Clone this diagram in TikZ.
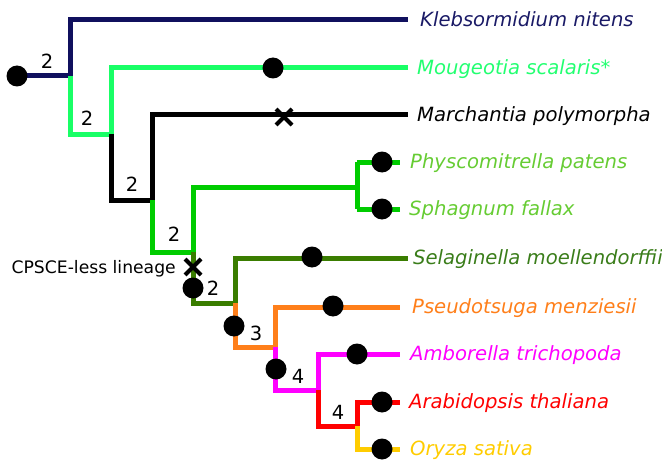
\documentclass[tikz,border=0pt]{standalone}
\usepackage{fontspec}
\setmainfont{DejaVu Sans}
\usetikzlibrary{shapes.misc}
\definecolor{cnavy}{HTML}{10105E}
\definecolor{cnavyt}{HTML}{1A1A66}
\definecolor{cspring}{HTML}{19FF66}
\definecolor{cspringt}{HTML}{22FF70}
\definecolor{cgreen}{HTML}{00CC00}
\definecolor{cgreent}{HTML}{66CC33}
\definecolor{cdark}{HTML}{3A7D00}
\definecolor{cdarkt}{HTML}{3A7D1A}
\definecolor{corange}{HTML}{FF7F1A}
\definecolor{cmag}{HTML}{FF00FF}
\definecolor{cred}{HTML}{FF0000}
\definecolor{cgold}{HTML}{FFCC00}
\tikzset{
  br/.style={line width=5pt, line join=miter, line cap=square},
  taxon/.style={anchor=base west, inner sep=0pt, font=\fontsize{19.6}{22}\selectfont\itshape},
  num/.style={inner sep=0pt, font=\fontsize{19.5}{22}\selectfont},
  evt/.style={circle, fill=black, minimum size=21pt, inner sep=0pt},
  loss/.style={cross out, draw=black, line width=4pt, minimum size=12pt, inner sep=0pt}
}
\begin{document}
\begin{tikzpicture}[x=1pt,y=-1pt]
\useasboundingbox (0,0) rectangle (662,460);
% junction coordinates
\coordinate (r) at (17,76);
\coordinate (j1) at (70,76);
\coordinate (j2) at (111,134);
\coordinate (j3) at (152,200);
\coordinate (j4) at (193,252);
\coordinate (j5) at (235,303);
\coordinate (j6) at (275,347);
\coordinate (j7) at (318,390);
\coordinate (j8) at (357,426);
\coordinate (jm) at (357,187);
% tips
\coordinate (tK) at (408,20);
\coordinate (tMo) at (408,68);
\coordinate (tMa) at (408,115);
\coordinate (tP) at (400,162);
\coordinate (tSp) at (400,209);
\coordinate (tSe) at (408,258);
\coordinate (tPs) at (400,307);
\coordinate (tA) at (400,354);
\coordinate (tAr) at (400,402);
\coordinate (tO) at (400,449);
% branches
\draw[br, cnavy] (r) -- (j1) |- (tK);
\draw[br, cspring] (j1) |- (j2) |- (tMo);
\draw[br, black] (j2) |- (j3) |- (tMa);
\draw[br, cgreen] (j3) |- (j4) |- (jm);
\draw[br, cgreen] (jm |- tP) -- (jm |- tSp);
\draw[br, cgreen] (jm |- tP) -- (tP);
\draw[br, cgreen] (jm |- tSp) -- (tSp);
\draw[br, cdark] (j4) |- (j5) |- (tSe);
\draw[br, corange] (j5) |- (j6) |- (tPs);
\draw[br, cmag] (j6) |- (j7) |- (tA);
\draw[br, cred] (j7) |- (j8) |- (tAr);
\draw[br, cgold] (j8) |- (tO);
% taxa
\node[taxon, text=cnavyt] (nK) at (420,26.8) {Klebsormidium nitens};
\node[taxon, text=cspringt] (nMo) at (417,74.8) {Mougeotia scalaris*};
\node[taxon, text=black] (nMa) at (417,121.8) {Marchantia polymorpha};
\node[taxon, text=cgreent] (nP) at (410,168.8) {Physcomitrella patens};
\node[taxon, text=cgreent] (nSp) at (409,215.8) {Sphagnum fallax};
\node[taxon, text=cdarkt] (nSe) at (413,264.8) {Selaginella moellendorffii};
\node[taxon, text=corange] (nPs) at (412,313.8) {Pseudotsuga menziesii};
\node[taxon, text=cmag] (nA) at (410,360.8) {Amborella trichopoda};
\node[taxon, text=cred] (nAr) at (409,408.8) {Arabidopsis thaliana};
\node[taxon, text=cgold] (nO) at (410,455.8) {Oryza sativa};
% events
\node[evt] (e0) at (r) {};
\node[evt] (e1) at (273,68) {};
\node[evt] (e2) at (382,162) {};
\node[evt] (e3) at (382,209) {};
\node[evt] (e4) at (193,288) {};
\node[evt] (e5) at (312,257) {};
\node[evt] (e6) at (234,326) {};
\node[evt] (e7) at (333,306) {};
\node[evt] (e8) at (276,369) {};
\node[evt] (e9) at (357,354) {};
\node[evt] (e10) at (382,402) {};
\node[evt] (e11) at (382,449) {};
\node[loss] (x1) at (284,117) {};
\node[loss] (x2) at (193,267) {};
% numbers
\node[num] (n1) at (47,61) {2};
\node[num] (n2) at (87,118) {2};
\node[num] (n3) at (132,184) {2};
\node[num] (n4) at (174,234) {2};
\node[num] (n5) at (213,288) {2};
\node[num] (n6) at (256,333) {3};
\node[num] (n7) at (298,376) {4};
\node[num] (n8) at (338,412) {4};
\node[anchor=base east, inner sep=0pt, font=\fontsize{17.2}{20}\selectfont] (cp) at (176,273.3) {CPSCE-less lineage};
\end{tikzpicture}
\end{document}
